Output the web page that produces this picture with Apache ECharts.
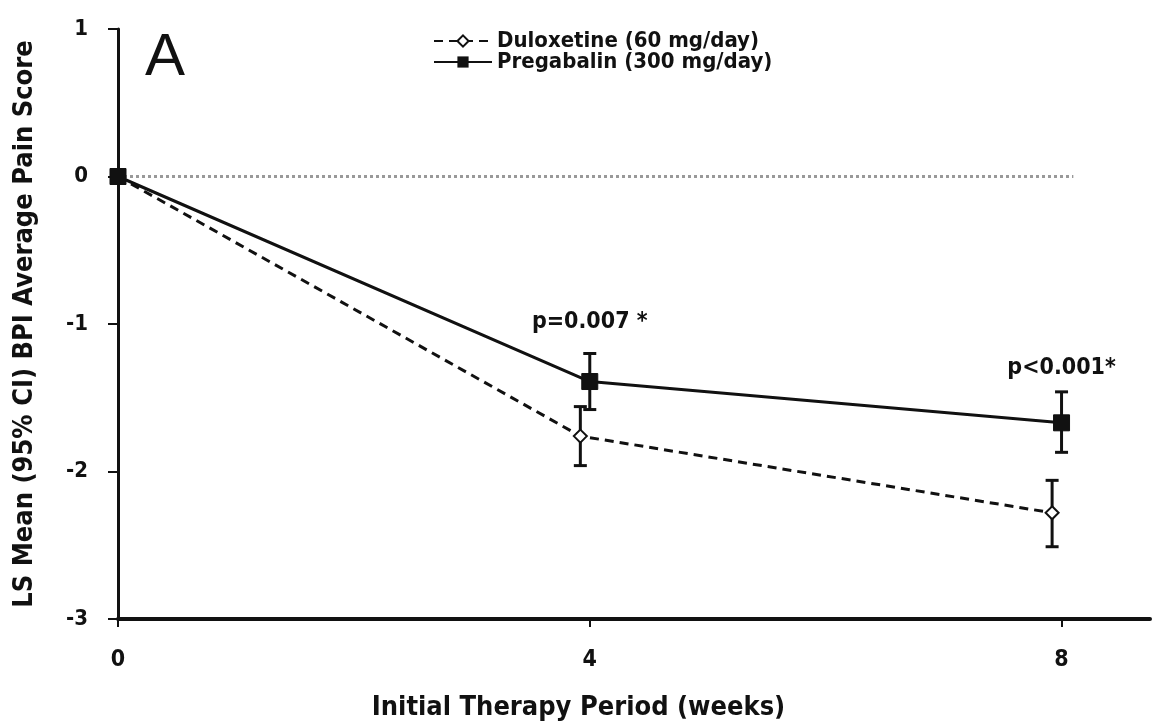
<!DOCTYPE html>
<html><head><meta charset="utf-8">
<script src="https://cdn.jsdelivr.net/npm/echarts@6/dist/echarts.min.js"></script>
<style>html,body{margin:0;padding:0;background:#fff}#c{width:1157px;height:728px}</style>
</head><body><div id="c"></div>
<script>
const FONT = '"DejaVu Sans Condensed", "DejaVu Sans", sans-serif';
const seriesNames = ['Duloxetine (60 mg/day)', 'Pregabalin (300 mg/day)'];
const dulX = [0, 3.92, 7.92];
const dulY = [0, -1.76, -2.28];
const dulLo = [null, -1.96, -2.51];
const dulHi = [null, -1.56, -2.06];
const preX = [0, 4, 8];
const preY = [0, -1.39, -1.67];
const preLo = [null, -1.58, -1.87];
const preHi = [null, -1.20, -1.46];
const refX = [0, 8.1];
const refY = [0, 0];
const xTicks = [0, 4, 8];
const yTicks = [-3, -2, -1, 0, 1];
const annotX = [4, 8];
const annotY = [-0.99, -1.30];
const annotText = ['p=0.007 *', 'p<0.001*'];

const pts = (xs, ys) => xs.map((x, i) => [x, ys[i]]);
const bars = (xs, lo, hi) => xs.map((x, i) => [x, lo[i], hi[i]]).filter(d => d[1] !== null);

function errRender(params, api) {
  const x = api.value(0), lo = api.value(1), hi = api.value(2);
  const a = api.coord([x, hi]), b = api.coord([x, lo]);
  const w = 6.5;
  const st = {stroke: '#111', lineWidth: 3};
  return {type: 'group', children: [
    {type: 'line', shape: {x1: a[0], y1: a[1], x2: b[0], y2: b[1]}, style: st},
    {type: 'line', shape: {x1: a[0] - w, y1: a[1], x2: a[0] + w, y2: a[1]}, style: st},
    {type: 'line', shape: {x1: b[0] - w, y1: b[1], x2: b[0] + w, y2: b[1]}, style: st}
  ]};
}
function annotRender(params, api) {
  const p = api.coord([api.value(0), api.value(1)]);
  return {type: 'text', x: p[0], y: p[1], style: {
    text: annotText[params.dataIndex], fill: '#111', font: 'bold 23px ' + FONT,
    align: 'center', verticalAlign: 'middle'}};
}

const chart = echarts.init(document.getElementById('c'), null, {renderer: 'canvas'});
chart.setOption({
  backgroundColor: '#fff',
  animation: false,
  textStyle: {fontFamily: FONT},
  grid: {left: 118, right: 7, top: 29, bottom: 109},
  legend: {
    data: seriesNames, orient: 'vertical', left: 428, top: 25,
    itemWidth: 58, itemHeight: 14, itemGap: -1,
    textStyle: {fontSize: 22, fontWeight: 'bold', color: '#111', fontFamily: FONT},
    selectedMode: false
  },
  xAxis: {
    type: 'value', min: 0, max: 8.75, interval: 4,
    axisLine: {onZero: false, lineStyle: {color: '#111', width: 4}},
    axisTick: {show: true, length: 8, lineStyle: {color: '#111', width: 2}, customValues: xTicks},
    axisLabel: {customValues: xTicks, margin: 30, fontSize: 23, fontWeight: 'bold', color: '#111', fontFamily: FONT},
    splitLine: {show: false}
  },
  yAxis: {
    type: 'value', min: -3, max: 1, interval: 1,
    name: 'LS Mean (95% CI) BPI Average Pain Score', nameLocation: 'middle', nameGap: 80,
    nameTextStyle: {fontSize: 27, fontWeight: 'bold', color: '#111', fontFamily: FONT},
    axisLine: {show: true, onZero: false, lineStyle: {color: '#111', width: 3}},
    axisTick: {show: true, length: 10, lineStyle: {color: '#111', width: 2}, customValues: yTicks},
    axisLabel: {customValues: yTicks, margin: 30, fontSize: 22, fontWeight: 'bold', color: '#111', fontFamily: FONT},
    splitLine: {show: false}
  },
  graphic: [
    {type: 'text', left: 145, top: 28, style: {text: 'A', fontSize: 60, fontWeight: 500, fill: '#111', fontFamily: 'Liberation Sans, Arial, sans-serif'}},
    {type: 'text', left: 'center', top: 694, style: {text: 'Initial Therapy Period (weeks)', fontSize: 27, fontWeight: 'bold', fill: '#111', fontFamily: FONT}}
  ],
  series: [
    {type: 'line', name: 'ref', data: pts(refX, refY), symbol: 'none', silent: true,
     lineStyle: {color: '#999', width: 3, type: 'dotted'}, z: 1},
    {type: 'custom', name: 'dulErr', renderItem: errRender, data: bars(dulX, dulLo, dulHi), z: 3, silent: true},
    {type: 'custom', name: 'preErr', renderItem: errRender, data: bars(preX, preLo, preHi), z: 3, silent: true},
    {type: 'line', name: seriesNames[0], data: pts(dulX, dulY), symbol: 'diamond', symbolSize: 13,
     lineStyle: {color: '#111', width: 3, type: [9, 6]},
     itemStyle: {color: '#fff', borderColor: '#111', borderWidth: 2}, z: 4},
    {type: 'line', name: seriesNames[1], data: pts(preX, preY), symbol: 'rect', symbolSize: 16,
     lineStyle: {color: '#111', width: 3},
     itemStyle: {color: '#111', borderColor: '#111'}, z: 5},
    {type: 'custom', name: 'annot', renderItem: annotRender, data: pts(annotX, annotY), silent: true, z: 6}
  ]
});
</script></body></html>
